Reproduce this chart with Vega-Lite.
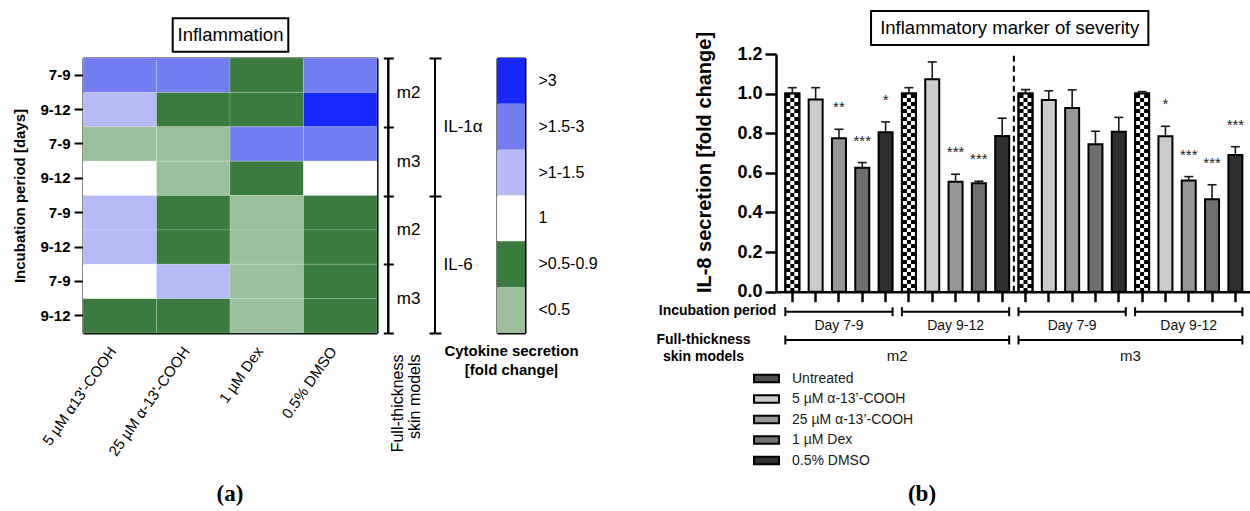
{
  "$schema": "https://vega.github.io/schema/vega-lite/v6.json",
  "width": 1250,
  "height": 511,
  "autosize": {"type": "none"},
  "padding": 0,
  "background": "white",
  "config": {
    "view": {"stroke": null},
    "font": "Liberation Sans",
    "axis": {"domainColor": "black", "tickColor": "black", "labelColor": "black", "titleColor": "black", "grid": false, "labelFont": "Liberation Sans", "titleFont": "Liberation Sans", "zindex": 1, "labelOverlap": false}
  },
  "datasets": {
    "heat": [
      {"row": "IL-1α m2 7-9", "treatment": "5 µM α13'-COOH", "level": ">1.5-3"},
      {"row": "IL-1α m2 7-9", "treatment": "25 µM α-13'-COOH", "level": ">1.5-3"},
      {"row": "IL-1α m2 7-9", "treatment": "1 µM Dex", "level": ">0.5-0.9"},
      {"row": "IL-1α m2 7-9", "treatment": "0.5% DMSO", "level": ">1.5-3"},
      {"row": "IL-1α m2 9-12", "treatment": "5 µM α13'-COOH", "level": ">1-1.5"},
      {"row": "IL-1α m2 9-12", "treatment": "25 µM α-13'-COOH", "level": ">0.5-0.9"},
      {"row": "IL-1α m2 9-12", "treatment": "1 µM Dex", "level": ">0.5-0.9"},
      {"row": "IL-1α m2 9-12", "treatment": "0.5% DMSO", "level": ">3"},
      {"row": "IL-1α m3 7-9", "treatment": "5 µM α13'-COOH", "level": "<0.5"},
      {"row": "IL-1α m3 7-9", "treatment": "25 µM α-13'-COOH", "level": "<0.5"},
      {"row": "IL-1α m3 7-9", "treatment": "1 µM Dex", "level": ">1.5-3"},
      {"row": "IL-1α m3 7-9", "treatment": "0.5% DMSO", "level": ">1.5-3"},
      {"row": "IL-1α m3 9-12", "treatment": "5 µM α13'-COOH", "level": "1"},
      {"row": "IL-1α m3 9-12", "treatment": "25 µM α-13'-COOH", "level": "<0.5"},
      {"row": "IL-1α m3 9-12", "treatment": "1 µM Dex", "level": ">0.5-0.9"},
      {"row": "IL-1α m3 9-12", "treatment": "0.5% DMSO", "level": "1"},
      {"row": "IL-6 m2 7-9", "treatment": "5 µM α13'-COOH", "level": ">1-1.5"},
      {"row": "IL-6 m2 7-9", "treatment": "25 µM α-13'-COOH", "level": ">0.5-0.9"},
      {"row": "IL-6 m2 7-9", "treatment": "1 µM Dex", "level": "<0.5"},
      {"row": "IL-6 m2 7-9", "treatment": "0.5% DMSO", "level": ">0.5-0.9"},
      {"row": "IL-6 m2 9-12", "treatment": "5 µM α13'-COOH", "level": ">1-1.5"},
      {"row": "IL-6 m2 9-12", "treatment": "25 µM α-13'-COOH", "level": ">0.5-0.9"},
      {"row": "IL-6 m2 9-12", "treatment": "1 µM Dex", "level": "<0.5"},
      {"row": "IL-6 m2 9-12", "treatment": "0.5% DMSO", "level": ">0.5-0.9"},
      {"row": "IL-6 m3 7-9", "treatment": "5 µM α13'-COOH", "level": "1"},
      {"row": "IL-6 m3 7-9", "treatment": "25 µM α-13'-COOH", "level": ">1-1.5"},
      {"row": "IL-6 m3 7-9", "treatment": "1 µM Dex", "level": "<0.5"},
      {"row": "IL-6 m3 7-9", "treatment": "0.5% DMSO", "level": ">0.5-0.9"},
      {"row": "IL-6 m3 9-12", "treatment": "5 µM α13'-COOH", "level": ">0.5-0.9"},
      {"row": "IL-6 m3 9-12", "treatment": "25 µM α-13'-COOH", "level": ">0.5-0.9"},
      {"row": "IL-6 m3 9-12", "treatment": "1 µM Dex", "level": "<0.5"},
      {"row": "IL-6 m3 9-12", "treatment": "0.5% DMSO", "level": ">0.5-0.9"}
    ],
    "cbar": [
      {"level": ">3", "key": "fold change"},
      {"level": ">1.5-3", "key": "fold change"},
      {"level": ">1-1.5", "key": "fold change"},
      {"level": "1", "key": "fold change"},
      {"level": ">0.5-0.9", "key": "fold change"},
      {"level": "<0.5", "key": "fold change"}
    ],
    "segm": [
      {"seg": "IL-1α m2", "col": "Full-thickness skin models"},
      {"seg": "IL-1α m3", "col": "Full-thickness skin models"},
      {"seg": "IL-6 m2", "col": "Full-thickness skin models"},
      {"seg": "IL-6 m3", "col": "Full-thickness skin models"}
    ],
    "segil": [
      {"seg": "IL-1α", "col": "cytokine"},
      {"seg": "IL-6", "col": "cytokine"}
    ],
    "panels": [
      {"panel": "a", "title": "Inflammation", "caption": "(a)"},
      {"panel": "b", "title": "Inflammatory marker of severity", "caption": "(b)"}
    ],
    "bars": [
      {"bar": "m2 7-9 1", "treatment": "Untreated", "value": 1.0, "upper": 1.03, "sig": ""},
      {"bar": "m2 7-9 2", "treatment": "5 µM α-13’-COOH", "value": 0.97, "upper": 1.03, "sig": ""},
      {"bar": "m2 7-9 3", "treatment": "25 µM α-13’-COOH", "value": 0.775, "upper": 0.82, "sig": "**"},
      {"bar": "m2 7-9 4", "treatment": "1 µM Dex", "value": 0.626, "upper": 0.652, "sig": "***"},
      {"bar": "m2 7-9 5", "treatment": "0.5% DMSO", "value": 0.805, "upper": 0.857, "sig": "*"},
      {"bar": "m2 9-12 1", "treatment": "Untreated", "value": 1.0, "upper": 1.03, "sig": ""},
      {"bar": "m2 9-12 2", "treatment": "5 µM α-13’-COOH", "value": 1.073, "upper": 1.16, "sig": ""},
      {"bar": "m2 9-12 3", "treatment": "25 µM α-13’-COOH", "value": 0.555, "upper": 0.593, "sig": "***"},
      {"bar": "m2 9-12 4", "treatment": "1 µM Dex", "value": 0.547, "upper": 0.558, "sig": "***"},
      {"bar": "m2 9-12 5", "treatment": "0.5% DMSO", "value": 0.786, "upper": 0.876, "sig": ""},
      {"bar": "m3 7-9 1", "treatment": "Untreated", "value": 1.0, "upper": 1.02, "sig": ""},
      {"bar": "m3 7-9 2", "treatment": "5 µM α-13’-COOH", "value": 0.968, "upper": 1.014, "sig": ""},
      {"bar": "m3 7-9 3", "treatment": "25 µM α-13’-COOH", "value": 0.928, "upper": 1.019, "sig": ""},
      {"bar": "m3 7-9 4", "treatment": "1 µM Dex", "value": 0.745, "upper": 0.81, "sig": ""},
      {"bar": "m3 7-9 5", "treatment": "0.5% DMSO", "value": 0.808, "upper": 0.88, "sig": ""},
      {"bar": "m3 9-12 1", "treatment": "Untreated", "value": 1.0, "upper": 1.01, "sig": ""},
      {"bar": "m3 9-12 2", "treatment": "5 µM α-13’-COOH", "value": 0.785, "upper": 0.835, "sig": "*"},
      {"bar": "m3 9-12 3", "treatment": "25 µM α-13’-COOH", "value": 0.561, "upper": 0.581, "sig": "***"},
      {"bar": "m3 9-12 4", "treatment": "1 µM Dex", "value": 0.467, "upper": 0.54, "sig": "***"},
      {"bar": "m3 9-12 5", "treatment": "0.5% DMSO", "value": 0.69, "upper": 0.732, "sig": "***"}
    ],
    "brackets": [
      {"level": "Incubation period", "label": "Day 7-9", "start": "m2 7-9 1", "end": "m2 7-9 5", "mid": "m2 7-9 3"},
      {"level": "Incubation period", "label": "Day 9-12", "start": "m2 9-12 1", "end": "m2 9-12 5", "mid": "m2 9-12 3"},
      {"level": "Incubation period", "label": "Day 7-9", "start": "m3 7-9 1", "end": "m3 7-9 5", "mid": "m3 7-9 3"},
      {"level": "Incubation period", "label": "Day 9-12", "start": "m3 9-12 1", "end": "m3 9-12 5", "mid": "m3 9-12 3"},
      {"level": "Full-thickness skin models", "label": "m2", "start": "m2 7-9 1", "end": "m2 9-12 5", "mid": "m2 9-12 1"},
      {"level": "Full-thickness skin models", "label": "m3", "start": "m3 7-9 1", "end": "m3 9-12 5", "mid": "m3 9-12 1"}
    ],
    "divider": [{"bar": "m3 7-9 1", "note": "m2 | m3"}]
  },
  "layer": [
    {
      "data": {"name": "heat"},
      "mark": {"type": "rect", "stroke": "white", "strokeOpacity": 0.18, "strokeWidth": 1},
      "encoding": {
        "x": {"field": "treatment", "type": "nominal",
          "scale": {"domain": ["5 µM α13'-COOH", "25 µM α-13'-COOH", "1 µM Dex", "0.5% DMSO"], "range": [83, 377], "padding": 0},
          "axis": {"orient": "bottom", "offset": -178, "domainWidth": 2, "ticks": false, "labelAngle": -55, "labelAlign": "right", "labelBaseline": "middle", "labelPadding": 15, "labelOffset": -7, "labelFontSize": 15, "title": null}},
        "y": {"field": "row", "type": "nominal",
          "scale": {"domain": ["IL-1α m2 7-9", "IL-1α m2 9-12", "IL-1α m3 7-9", "IL-1α m3 9-12", "IL-6 m2 7-9", "IL-6 m2 9-12", "IL-6 m3 7-9", "IL-6 m3 9-12"], "range": [58, 333], "padding": 0},
          "axis": {"orient": "left", "offset": -83, "domainWidth": 2, "tickSize": 9, "tickWidth": 2, "labelPadding": 4, "labelFontSize": 15, "labelFontWeight": "bold", "labelExpr": "split(datum.value, ' ')[2]", "title": "Incubation period [days]", "titleFontSize": 15, "titleFontWeight": "bold", "titlePadding": 12}},
        "fill": {"field": "level", "type": "nominal",
          "scale": {"domain": [">3", ">1.5-3", ">1-1.5", "1", ">0.5-0.9", "<0.5"], "range": ["#1628fb", "#727cf3", "#b6bbf7", "#ffffff", "#3a7c40", "#9bbf9b"]},
          "legend": null}
      }
    },
    {
      "data": {"name": "heat"},
      "mark": {"type": "rect", "opacity": 0},
      "encoding": {
        "x": {"field": "treatment", "type": "nominal",
          "scale": {"domain": ["5 µM α13'-COOH", "25 µM α-13'-COOH", "1 µM Dex", "0.5% DMSO"], "range": [83, 377], "padding": 0},
          "axis": {"orient": "top", "offset": -58, "domainWidth": 2, "ticks": false, "labels": false, "title": null}},
        "y": {"field": "row", "type": "nominal",
          "scale": {"domain": ["IL-1α m2 7-9", "IL-1α m2 9-12", "IL-1α m3 7-9", "IL-1α m3 9-12", "IL-6 m2 7-9", "IL-6 m2 9-12", "IL-6 m3 7-9", "IL-6 m3 9-12"], "range": [58, 333], "padding": 0},
          "axis": {"orient": "right", "offset": -873, "domainWidth": 2, "ticks": false, "labels": false, "title": null}}
      }
    },
    {
      "data": {"name": "segm"},
      "mark": {"type": "rect", "fill": "black"},
      "encoding": {
        "x": {"field": "col", "type": "nominal", "scale": {"range": [387.3, 389.3], "padding": 0},
          "axis": {"orient": "bottom", "offset": -178, "domain": false, "ticks": false, "labelAngle": -90, "labelAlign": "right", "labelBaseline": "middle", "labelPadding": 21, "labelOffset": 10, "labelFontSize": 16, "labelLineHeight": 17, "labelExpr": "['Full-thickness', 'skin models']", "title": null}},
        "y": {"field": "seg", "type": "nominal", "scale": {"domain": ["IL-1α m2", "IL-1α m3", "IL-6 m2", "IL-6 m3"], "range": [58, 333], "padding": 0},
          "axis": {"orient": "left", "offset": -388.3, "domain": false, "tickBand": "extent", "tickSize": 5, "tickWidth": 2, "labels": false, "title": null}}
      }
    },
    {
      "data": {"name": "segm"},
      "mark": {"type": "rect", "fill": "black"},
      "encoding": {
        "x": {"field": "col", "type": "nominal", "scale": {"range": [387.3, 389.3], "padding": 0}, "axis": null},
        "y": {"field": "seg", "type": "nominal", "scale": {"domain": ["IL-1α m2", "IL-1α m3", "IL-6 m2", "IL-6 m3"], "range": [58, 333], "padding": 0},
          "axis": {"orient": "right", "offset": -861.7, "domain": false, "tickBand": "extent", "tickSize": 5, "tickWidth": 2, "labelExpr": "split(datum.value, ' ')[1]", "labelFontSize": 17, "labelPadding": 3, "title": null}}
      }
    },
    {
      "data": {"name": "segil"},
      "mark": {"type": "rect", "fill": "black"},
      "encoding": {
        "x": {"field": "col", "type": "nominal", "scale": {"range": [434, 436], "padding": 0}, "axis": null},
        "y": {"field": "seg", "type": "nominal", "scale": {"domain": ["IL-1α", "IL-6"], "range": [58, 333], "padding": 0},
          "axis": {"orient": "left", "offset": -435, "domain": false, "tickBand": "extent", "tickSize": 6, "tickWidth": 2, "labels": false, "title": null}}
      }
    },
    {
      "data": {"name": "segil"},
      "mark": {"type": "rect", "fill": "black"},
      "encoding": {
        "x": {"field": "col", "type": "nominal", "scale": {"range": [434, 436], "padding": 0}, "axis": null},
        "y": {"field": "seg", "type": "nominal", "scale": {"domain": ["IL-1α", "IL-6"], "range": [58, 333], "padding": 0},
          "axis": {"orient": "right", "offset": -815, "domain": false, "tickBand": "extent", "tickSize": 6, "tickWidth": 2, "labelFontSize": 17, "labelPadding": 2, "title": null}}
      }
    },
    {
      "data": {"name": "cbar"},
      "mark": {"type": "rect"},
      "encoding": {
        "x": {"field": "key", "type": "nominal", "scale": {"range": [497, 525], "padding": 0},
          "axis": {"orient": "bottom", "offset": -178, "domainWidth": 2, "ticks": false, "labels": false, "title": ["Cytokine secretion", "[fold change|"], "titleFontSize": 15, "titleFontWeight": "bold", "titlePadding": 10, "titleLineHeight": 19}},
        "y": {"field": "level", "type": "nominal", "scale": {"domain": [">3", ">1.5-3", ">1-1.5", "1", ">0.5-0.9", "<0.5"], "range": [58, 333], "padding": 0},
          "axis": {"orient": "right", "offset": -725, "domainWidth": 2, "tickSize": -5, "tickWidth": 2, "labelPadding": 18, "labelFontSize": 16, "title": null}},
        "fill": {"field": "level", "type": "nominal",
          "scale": {"domain": [">3", ">1.5-3", ">1-1.5", "1", ">0.5-0.9", "<0.5"], "range": ["#1628fb", "#727cf3", "#b6bbf7", "#ffffff", "#3a7c40", "#9bbf9b"]},
          "legend": null}
      }
    },
    {
      "data": {"name": "cbar"},
      "mark": {"type": "rect", "opacity": 0},
      "encoding": {
        "x": {"field": "key", "type": "nominal", "scale": {"range": [497, 525], "padding": 0},
          "axis": {"orient": "top", "offset": -58, "domainWidth": 2, "ticks": false, "labels": false, "title": null}},
        "y": {"field": "level", "type": "nominal", "scale": {"domain": [">3", ">1.5-3", ">1-1.5", "1", ">0.5-0.9", "<0.5"], "range": [58, 333], "padding": 0},
          "axis": {"orient": "left", "offset": -497, "domainWidth": 2, "tickSize": -5, "tickWidth": 2, "labels": false, "title": null}}
      }
    },
    {
      "data": {"name": "panels"},
      "transform": [{"filter": "datum.panel == 'a'"}],
      "mark": {"type": "point", "shape": "M-1,-0.289H1V0.289H-1Z", "size": 13363, "filled": false, "color": "black", "strokeWidth": 2, "opacity": 1},
      "encoding": {
        "x": {"field": "panel", "type": "nominal", "scale": {"domain": ["a", "b"], "range": [230.5, 1009.7], "padding": 0}, "axis": null},
        "y": {"field": "panel", "type": "nominal", "scale": {"domain": ["a", "b"], "range": [35, 28], "padding": 0}, "axis": null}
      }
    },
    {
      "data": {"name": "panels"},
      "transform": [{"filter": "datum.panel == 'b'"}],
      "mark": {"type": "point", "shape": "M-1,-0.1226H1V0.1226H-1Z", "size": 76895, "filled": false, "color": "black", "strokeWidth": 2, "opacity": 1},
      "encoding": {
        "x": {"field": "panel", "type": "nominal", "scale": {"domain": ["a", "b"], "range": [230.5, 1009.7], "padding": 0}, "axis": null},
        "y": {"field": "panel", "type": "nominal", "scale": {"domain": ["a", "b"], "range": [35, 28], "padding": 0}, "axis": null}
      }
    },
    {
      "data": {"name": "panels"},
      "mark": {"type": "text", "fontSize": 18.5, "baseline": "middle", "align": "center", "color": "black"},
      "encoding": {
        "x": {"field": "panel", "type": "nominal", "scale": {"domain": ["a", "b"], "range": [230.5, 1009.7], "padding": 0}, "axis": null},
        "y": {"field": "panel", "type": "nominal", "scale": {"domain": ["a", "b"], "range": [35, 28], "padding": 0}, "axis": null},
        "text": {"field": "title"}
      }
    },
    {
      "data": {"name": "panels"},
      "mark": {"type": "text", "font": "Liberation Serif", "fontSize": 23, "fontWeight": "bold", "baseline": "middle", "align": "center", "color": "black"},
      "encoding": {
        "x": {"field": "panel", "type": "nominal", "scale": {"domain": ["a", "b"], "range": [230, 922], "padding": 0}, "axis": null},
        "y": {"field": "panel", "type": "nominal", "scale": {"domain": ["a", "b"], "range": [494, 494], "padding": 0}, "axis": null},
        "text": {"field": "caption"}
      }
    },
    {
      "layer": [
        {
          "layer": [
            {
              "data": {"name": "bars"},
              "mark": {"type": "bar", "stroke": "black", "strokeWidth": 2},
              "encoding": {
                "x": {"field": "bar", "type": "nominal", "scale": {"range": [776, 1251.7], "paddingInner": 0.4, "paddingOuter": 0.4},
                  "axis": {"orient": "bottom", "offset": -219.3, "domainWidth": 2.5, "tickSize": 10, "tickWidth": 2.5, "labels": false, "title": null}},
                "y": {"field": "value", "type": "quantitative", "scale": {"domain": [0, 1.2], "range": [291.7, 54], "nice": false, "zero": true},
                  "axis": {"orient": "left", "offset": -776, "values": [0, 0.2, 0.4, 0.6, 0.8, 1, 1.2], "format": ".1f", "domainWidth": 2.5, "tickSize": 11, "tickWidth": 2.5, "labelFontSize": 18, "labelFontWeight": "bold", "labelPadding": 3, "labelFlush": false, "title": "IL-8 secretion [fold change]", "titleFontSize": 20, "titleFontWeight": "bold", "titlePadding": 22, "titleY": 162}},
                "fill": {"field": "treatment", "type": "nominal",
                  "scale": {"domain": ["Untreated", "5 µM α-13’-COOH", "25 µM α-13’-COOH", "1 µM Dex", "0.5% DMSO"], "range": ["#505050", "#cbcbcb", "#979797", "#6f6f6f", "#2f2f2f"]},
                  "legend": {"orient": "none", "legendX": 759, "legendY": 371, "title": null, "symbolType": "M-2,-0.62H2V0.62H-2Z", "symbolSize": 156, "symbolStrokeColor": "black", "symbolStrokeWidth": 2, "symbolOpacity": 1, "labelFontSize": 14, "labelColor": "#1a1a1a", "labelOffset": 18, "rowPadding": 3.5, "padding": 0}}
              }
            },
            {
              "data": {"name": "bars"},
              "transform": [{"filter": "datum.treatment == 'Untreated'"}],
              "mark": {"type": "bar", "width": 12, "fill": {"gradient": "linear", "x1": 0, "y1": 0, "x2": 0, "y2": 1, "stops": [
                {"offset": 0, "color": "#000"}, {"offset": 0.02, "color": "#000"}, {"offset": 0.02, "color": "#fff"}, {"offset": 0.04, "color": "#fff"},
                {"offset": 0.04, "color": "#000"}, {"offset": 0.06, "color": "#000"}, {"offset": 0.06, "color": "#fff"}, {"offset": 0.08, "color": "#fff"},
                {"offset": 0.08, "color": "#000"}, {"offset": 0.1, "color": "#000"}, {"offset": 0.1, "color": "#fff"}, {"offset": 0.12, "color": "#fff"},
                {"offset": 0.12, "color": "#000"}, {"offset": 0.14, "color": "#000"}, {"offset": 0.14, "color": "#fff"}, {"offset": 0.16, "color": "#fff"},
                {"offset": 0.16, "color": "#000"}, {"offset": 0.18, "color": "#000"}, {"offset": 0.18, "color": "#fff"}, {"offset": 0.2, "color": "#fff"},
                {"offset": 0.2, "color": "#000"}, {"offset": 0.22, "color": "#000"}, {"offset": 0.22, "color": "#fff"}, {"offset": 0.24, "color": "#fff"},
                {"offset": 0.24, "color": "#000"}, {"offset": 0.26, "color": "#000"}, {"offset": 0.26, "color": "#fff"}, {"offset": 0.28, "color": "#fff"},
                {"offset": 0.28, "color": "#000"}, {"offset": 0.3, "color": "#000"}, {"offset": 0.3, "color": "#fff"}, {"offset": 0.32, "color": "#fff"},
                {"offset": 0.32, "color": "#000"}, {"offset": 0.34, "color": "#000"}, {"offset": 0.34, "color": "#fff"}, {"offset": 0.36, "color": "#fff"},
                {"offset": 0.36, "color": "#000"}, {"offset": 0.38, "color": "#000"}, {"offset": 0.38, "color": "#fff"}, {"offset": 0.4, "color": "#fff"},
                {"offset": 0.4, "color": "#000"}, {"offset": 0.42, "color": "#000"}, {"offset": 0.42, "color": "#fff"}, {"offset": 0.44, "color": "#fff"},
                {"offset": 0.44, "color": "#000"}, {"offset": 0.46, "color": "#000"}, {"offset": 0.46, "color": "#fff"}, {"offset": 0.48, "color": "#fff"},
                {"offset": 0.48, "color": "#000"}, {"offset": 0.5, "color": "#000"}, {"offset": 0.5, "color": "#fff"}, {"offset": 0.52, "color": "#fff"},
                {"offset": 0.52, "color": "#000"}, {"offset": 0.54, "color": "#000"}, {"offset": 0.54, "color": "#fff"}, {"offset": 0.56, "color": "#fff"},
                {"offset": 0.56, "color": "#000"}, {"offset": 0.58, "color": "#000"}, {"offset": 0.58, "color": "#fff"}, {"offset": 0.6, "color": "#fff"},
                {"offset": 0.6, "color": "#000"}, {"offset": 0.62, "color": "#000"}, {"offset": 0.62, "color": "#fff"}, {"offset": 0.64, "color": "#fff"},
                {"offset": 0.64, "color": "#000"}, {"offset": 0.66, "color": "#000"}, {"offset": 0.66, "color": "#fff"}, {"offset": 0.68, "color": "#fff"},
                {"offset": 0.68, "color": "#000"}, {"offset": 0.7, "color": "#000"}, {"offset": 0.7, "color": "#fff"}, {"offset": 0.72, "color": "#fff"},
                {"offset": 0.72, "color": "#000"}, {"offset": 0.74, "color": "#000"}, {"offset": 0.74, "color": "#fff"}, {"offset": 0.76, "color": "#fff"},
                {"offset": 0.76, "color": "#000"}, {"offset": 0.78, "color": "#000"}, {"offset": 0.78, "color": "#fff"}, {"offset": 0.8, "color": "#fff"},
                {"offset": 0.8, "color": "#000"}, {"offset": 0.82, "color": "#000"}, {"offset": 0.82, "color": "#fff"}, {"offset": 0.84, "color": "#fff"},
                {"offset": 0.84, "color": "#000"}, {"offset": 0.86, "color": "#000"}, {"offset": 0.86, "color": "#fff"}, {"offset": 0.88, "color": "#fff"},
                {"offset": 0.88, "color": "#000"}, {"offset": 0.9, "color": "#000"}, {"offset": 0.9, "color": "#fff"}, {"offset": 0.92, "color": "#fff"},
                {"offset": 0.92, "color": "#000"}, {"offset": 0.94, "color": "#000"}, {"offset": 0.94, "color": "#fff"}, {"offset": 0.96, "color": "#fff"},
                {"offset": 0.96, "color": "#000"}, {"offset": 0.98, "color": "#000"}, {"offset": 0.98, "color": "#fff"}, {"offset": 1, "color": "#fff"}
              ]}},
              "encoding": {
                "x": {"field": "bar", "type": "nominal"},
                "y": {"field": "value", "type": "quantitative"}
              }
            },
            {
              "data": {"name": "bars"},
              "transform": [{"filter": "datum.treatment == 'Untreated'"}],
              "mark": {"type": "bar", "width": 4, "fill": {"gradient": "linear", "x1": 0, "y1": 0, "x2": 0, "y2": 1, "stops": [
                {"offset": 0, "color": "#fff"}, {"offset": 0.02, "color": "#fff"}, {"offset": 0.02, "color": "#000"}, {"offset": 0.04, "color": "#000"},
                {"offset": 0.04, "color": "#fff"}, {"offset": 0.06, "color": "#fff"}, {"offset": 0.06, "color": "#000"}, {"offset": 0.08, "color": "#000"},
                {"offset": 0.08, "color": "#fff"}, {"offset": 0.1, "color": "#fff"}, {"offset": 0.1, "color": "#000"}, {"offset": 0.12, "color": "#000"},
                {"offset": 0.12, "color": "#fff"}, {"offset": 0.14, "color": "#fff"}, {"offset": 0.14, "color": "#000"}, {"offset": 0.16, "color": "#000"},
                {"offset": 0.16, "color": "#fff"}, {"offset": 0.18, "color": "#fff"}, {"offset": 0.18, "color": "#000"}, {"offset": 0.2, "color": "#000"},
                {"offset": 0.2, "color": "#fff"}, {"offset": 0.22, "color": "#fff"}, {"offset": 0.22, "color": "#000"}, {"offset": 0.24, "color": "#000"},
                {"offset": 0.24, "color": "#fff"}, {"offset": 0.26, "color": "#fff"}, {"offset": 0.26, "color": "#000"}, {"offset": 0.28, "color": "#000"},
                {"offset": 0.28, "color": "#fff"}, {"offset": 0.3, "color": "#fff"}, {"offset": 0.3, "color": "#000"}, {"offset": 0.32, "color": "#000"},
                {"offset": 0.32, "color": "#fff"}, {"offset": 0.34, "color": "#fff"}, {"offset": 0.34, "color": "#000"}, {"offset": 0.36, "color": "#000"},
                {"offset": 0.36, "color": "#fff"}, {"offset": 0.38, "color": "#fff"}, {"offset": 0.38, "color": "#000"}, {"offset": 0.4, "color": "#000"},
                {"offset": 0.4, "color": "#fff"}, {"offset": 0.42, "color": "#fff"}, {"offset": 0.42, "color": "#000"}, {"offset": 0.44, "color": "#000"},
                {"offset": 0.44, "color": "#fff"}, {"offset": 0.46, "color": "#fff"}, {"offset": 0.46, "color": "#000"}, {"offset": 0.48, "color": "#000"},
                {"offset": 0.48, "color": "#fff"}, {"offset": 0.5, "color": "#fff"}, {"offset": 0.5, "color": "#000"}, {"offset": 0.52, "color": "#000"},
                {"offset": 0.52, "color": "#fff"}, {"offset": 0.54, "color": "#fff"}, {"offset": 0.54, "color": "#000"}, {"offset": 0.56, "color": "#000"},
                {"offset": 0.56, "color": "#fff"}, {"offset": 0.58, "color": "#fff"}, {"offset": 0.58, "color": "#000"}, {"offset": 0.6, "color": "#000"},
                {"offset": 0.6, "color": "#fff"}, {"offset": 0.62, "color": "#fff"}, {"offset": 0.62, "color": "#000"}, {"offset": 0.64, "color": "#000"},
                {"offset": 0.64, "color": "#fff"}, {"offset": 0.66, "color": "#fff"}, {"offset": 0.66, "color": "#000"}, {"offset": 0.68, "color": "#000"},
                {"offset": 0.68, "color": "#fff"}, {"offset": 0.7, "color": "#fff"}, {"offset": 0.7, "color": "#000"}, {"offset": 0.72, "color": "#000"},
                {"offset": 0.72, "color": "#fff"}, {"offset": 0.74, "color": "#fff"}, {"offset": 0.74, "color": "#000"}, {"offset": 0.76, "color": "#000"},
                {"offset": 0.76, "color": "#fff"}, {"offset": 0.78, "color": "#fff"}, {"offset": 0.78, "color": "#000"}, {"offset": 0.8, "color": "#000"},
                {"offset": 0.8, "color": "#fff"}, {"offset": 0.82, "color": "#fff"}, {"offset": 0.82, "color": "#000"}, {"offset": 0.84, "color": "#000"},
                {"offset": 0.84, "color": "#fff"}, {"offset": 0.86, "color": "#fff"}, {"offset": 0.86, "color": "#000"}, {"offset": 0.88, "color": "#000"},
                {"offset": 0.88, "color": "#fff"}, {"offset": 0.9, "color": "#fff"}, {"offset": 0.9, "color": "#000"}, {"offset": 0.92, "color": "#000"},
                {"offset": 0.92, "color": "#fff"}, {"offset": 0.94, "color": "#fff"}, {"offset": 0.94, "color": "#000"}, {"offset": 0.96, "color": "#000"},
                {"offset": 0.96, "color": "#fff"}, {"offset": 0.98, "color": "#fff"}, {"offset": 0.98, "color": "#000"}, {"offset": 1, "color": "#000"}
              ]}},
              "encoding": {
                "x": {"field": "bar", "type": "nominal"},
                "y": {"field": "value", "type": "quantitative"}
              }
            },
            {
              "data": {"name": "bars"},
              "transform": [{"filter": "datum.treatment == 'Untreated'"}],
              "mark": {"type": "bar", "fillOpacity": 0, "stroke": "black", "strokeWidth": 2},
              "encoding": {
                "x": {"field": "bar", "type": "nominal"},
                "y": {"field": "value", "type": "quantitative"}
              }
            },
            {
              "data": {"name": "bars"},
              "mark": {"type": "rule", "color": "#1a1a1a", "strokeWidth": 1.6},
              "encoding": {
                "x": {"field": "bar", "type": "nominal"},
                "y": {"field": "value", "type": "quantitative"},
                "y2": {"field": "upper"}
              }
            },
            {
              "data": {"name": "bars"},
              "mark": {"type": "tick", "color": "#1a1a1a", "thickness": 1.6, "size": 9, "opacity": 1},
              "encoding": {
                "x": {"field": "bar", "type": "nominal"},
                "y": {"field": "upper", "type": "quantitative"}
              }
            },
            {
              "data": {"name": "bars"},
              "transform": [{"filter": "datum.sig != ''"}],
              "mark": {"type": "text", "fontSize": 15, "baseline": "alphabetic", "align": "center", "dy": -17, "color": "#222"},
              "encoding": {
                "x": {"field": "bar", "type": "nominal"},
                "y": {"field": "upper", "type": "quantitative"},
                "text": {"field": "sig"}
              }
            },
            {
              "data": {"name": "divider"},
              "mark": {"type": "rule", "strokeDash": [6, 4], "strokeWidth": 2, "color": "black", "xOffset": -11.66},
              "encoding": {
                "x": {"field": "bar", "type": "nominal"},
                "y": {"datum": 0, "type": "quantitative"},
                "y2": {"datum": 1.2}
              }
            }
          ]
        },
        {
          "layer": [
            {
              "data": {"name": "brackets"},
              "mark": {"type": "rule", "strokeWidth": 2, "color": "black", "xOffset": -7, "x2Offset": 7},
              "encoding": {
                "x": {"field": "start", "type": "nominal"},
                "x2": {"field": "end"},
                "y": {"field": "level", "type": "nominal",
                  "scale": {"type": "point", "domain": ["Incubation period", "Full-thickness skin models"], "range": [311.7, 340], "padding": 0},
                  "axis": {"orient": "left", "offset": -776, "domain": false, "ticks": false, "labelFontSize": 14, "labelFontWeight": "bold", "labelBaseline": "top", "labelOffset": -8, "labelLineHeight": 17, "labelAlign": "center", "labelPadding": {"condition": {"test": "datum.value == 'Incubation period'", "value": 59}, "value": 73}, "labelExpr": "datum.value == 'Incubation period' ? datum.value : ['Full-thickness', 'skin models']", "title": null}}
              }
            },
            {
              "data": {"name": "brackets"},
              "mark": {"type": "tick", "orient": "vertical", "size": 9, "thickness": 2, "color": "black", "opacity": 1, "xOffset": -7},
              "encoding": {
                "x": {"field": "start", "type": "nominal"},
                "y": {"field": "level", "type": "nominal"}
              }
            },
            {
              "data": {"name": "brackets"},
              "mark": {"type": "tick", "orient": "vertical", "size": 9, "thickness": 2, "color": "black", "opacity": 1, "xOffset": 7},
              "encoding": {
                "x": {"field": "end", "type": "nominal"},
                "y": {"field": "level", "type": "nominal"}
              }
            },
            {
              "data": {"name": "brackets"},
              "transform": [{"filter": "datum.level == 'Incubation period'"}],
              "mark": {"type": "text", "fontSize": 14, "baseline": "middle", "align": "center", "dy": 14, "color": "#111"},
              "encoding": {
                "x": {"field": "mid", "type": "nominal"},
                "y": {"field": "level", "type": "nominal"},
                "text": {"field": "label"}
              }
            },
            {
              "data": {"name": "brackets"},
              "transform": [{"filter": "datum.level != 'Incubation period'"}],
              "mark": {"type": "text", "fontSize": 15, "baseline": "middle", "align": "center", "dy": 16, "xOffset": -11.66, "color": "#111"},
              "encoding": {
                "x": {"field": "mid", "type": "nominal"},
                "y": {"field": "level", "type": "nominal"},
                "text": {"field": "label"}
              }
            }
          ]
        }
      ],
      "resolve": {"scale": {"y": "independent"}, "axis": {"y": "independent"}}
    }
  ],
  "resolve": {
    "scale": {"x": "independent", "y": "independent", "fill": "independent"},
    "axis": {"x": "independent", "y": "independent"},
    "legend": {"fill": "independent"}
  }
}
